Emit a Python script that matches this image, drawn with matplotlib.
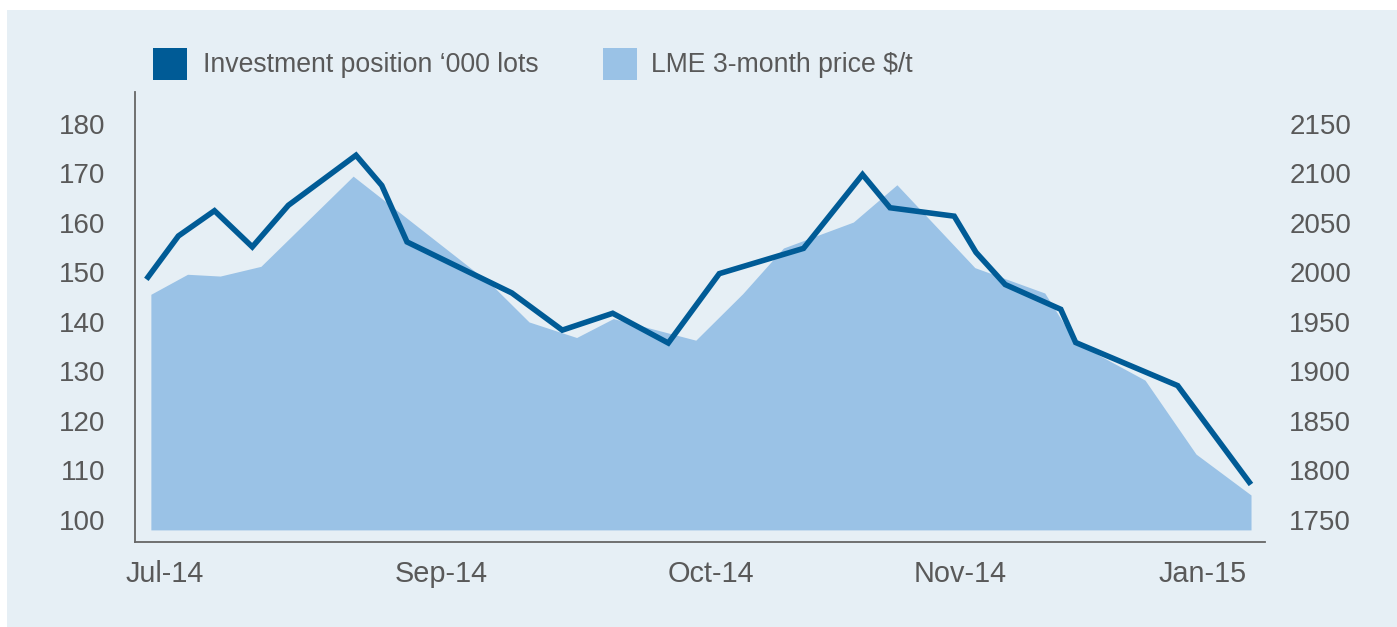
import matplotlib
matplotlib.use("Agg")
import matplotlib.pyplot as plt
from matplotlib.patches import Rectangle

plt.rcParams['font.family'] = ['Liberation Sans', 'DejaVu Sans']

# --- data (x = days from start of series) ---
line_x = [0.0, 5.3, 11.6, 18.2, 24.5, 36.3, 40.8, 45.2, 63.5, 72.3, 81.1, 90.8,
          99.7, 114.4, 124.7, 129.5, 140.7, 144.5, 149.6, 159.3, 161.9, 179.7, 192.2]
investment = [149.0, 157.3, 162.4, 155.1, 163.5, 173.6, 167.5, 156.1, 145.8, 138.3,
              141.7, 135.7, 149.7, 154.8, 169.7, 163.0, 161.3, 154.0, 147.5, 142.5,
              135.8, 127.1, 107.6]

area_x = [0.5, 6.9, 12.6, 19.7, 35.8, 59.7, 66.5, 74.8, 81.2, 95.6, 103.8, 110.9,
          123.1, 130.7, 144.3, 156.5, 161.9, 174.0, 182.9, 192.5]
lme_price = [1977.7, 1997.9, 1996.1, 2005.9, 2096.9, 1988.8, 1949.8, 1934.1, 1953.2,
             1931.4, 1978.4, 2024.4, 2050.6, 2088.2, 2004.6, 1979.0, 1929.0, 1891.1,
             1816.5, 1775.2]
area_base = 1740

tick_pos = [3.0, 51.1, 98.3, 141.7, 184.0]
tick_labels = ["Jul-14", "Sep-14", "Oct-14", "Nov-14", "Jan-15"]

left_ticks = list(range(100, 181, 10))
right_ticks = list(range(1750, 2151, 50))

# --- colours ---
c_line = "#005b96"
c_area = "#9ac2e6"
c_bg = "#e6eff5"
c_text = "#595959"
c_axis = "#666666"

fig = plt.figure(figsize=(13.97, 6.27), dpi=100)
fig.patch.set_facecolor("white")
fig.patches.append(Rectangle((7 / 1397, 0), 1 - 7 / 1397, 1 - 10 / 627,
                             transform=fig.transFigure, facecolor=c_bg,
                             edgecolor="none", zorder=-10))

ax = fig.add_axes([135 / 1397, 85.3 / 627, 1130 / 1397, 449.4 / 627])
ax2 = ax.twinx()

# area (right axis) behind, line (left axis) on top
ax2.fill_between(area_x, lme_price, area_base, color=c_area, lw=0)
ax.plot(line_x, investment, color=c_line, lw=4, solid_joinstyle="miter")

ax.set_zorder(ax2.get_zorder() + 1)
ax.patch.set_visible(False)
ax2.patch.set_visible(False)

ax.set_xlim(-2.27, 194.94)
ax.set_ylim(95.6, 186.3)
ax2.set_ylim(1728.1, 2181.5)

ax.set_yticks(left_ticks)
ax2.set_yticks(right_ticks)
ax.set_xticks(tick_pos)
ax.set_xticklabels(tick_labels)

for a in (ax, ax2):
    for s in a.spines.values():
        s.set_visible(False)
for s in ("left", "bottom"):
    ax.spines[s].set_visible(True)
    ax.spines[s].set_color(c_axis)
    ax.spines[s].set_linewidth(1.3)

ax.tick_params(axis="x", length=0, pad=13.5, labelsize=20.8, labelcolor=c_text)
ax.tick_params(axis="y", length=0, pad=21.5, labelsize=20, labelcolor=c_text)
ax2.tick_params(axis="y", length=0, pad=17.5, labelsize=20, labelcolor=c_text)

# --- legend ---
fig.patches.append(Rectangle((153 / 1397, 1 - 80 / 627), 34 / 1397, 32 / 627,
                             transform=fig.transFigure, facecolor=c_line,
                             edgecolor="none"))
fig.text(203 / 1397, 1 - 65 / 627, "Investment position \u2018000 lots",
         fontsize=19.2, color=c_text, va="center", ha="left")
fig.patches.append(Rectangle((603 / 1397, 1 - 80 / 627), 34 / 1397, 32 / 627,
                             transform=fig.transFigure, facecolor=c_area,
                             edgecolor="none"))
fig.text(651 / 1397, 1 - 65 / 627, "LME 3-month price $/t",
         fontsize=19.2, color=c_text, va="center", ha="left")

fig.savefig("out.png", dpi=100, facecolor=fig.get_facecolor())
